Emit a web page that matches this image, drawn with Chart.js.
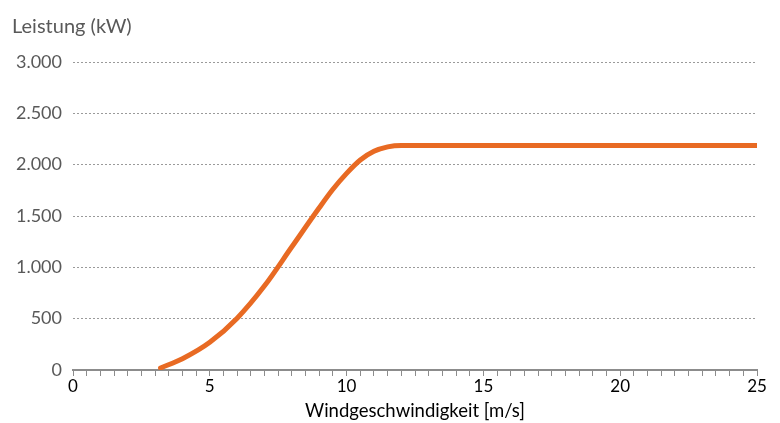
<!DOCTYPE html>
<html lang="de">
<head>
    <meta charset="UTF-8">
    <title>Leistungskurve</title>
    <script src="https://cdn.jsdelivr.net/npm/chart.js"></script>
    <style>
        body { margin: 0; background: #ffffff; }
        canvas { display: block; }
    </style>
</head>
<body>
    <canvas id="myChart" width="780" height="423"></canvas>

    <script>
        // Leistungskurve: Windgeschwindigkeit [m/s] -> Leistung [kW]
        const windSpeed = [3.2, 4, 5, 6, 7, 8, 9, 9.5, 10, 10.5, 11, 11.5, 12, 25];
        const power = [20, 110, 270, 505, 820, 1200, 1580, 1760, 1915, 2045, 2130, 2173, 2187, 2187];

        const xLabels = [0, 5, 10, 15, 20, 25];
        const yTicks = [0, 500, 1000, 1500, 2000, 2500, 3000];

        const fontName = 'Lato';

        function formatDe(v) {
            // thousands separator with a dot, like 3.000
            return String(v).replace(/\B(?=(\d{3})+(?!\d))/g, '.');
        }

        const points = windSpeed.map((x, i) => ({ x: x, y: power[i] }));

        const ctx = document.getElementById('myChart').getContext('2d');

        new Chart(ctx, {
            type: 'line',
            data: {
                datasets: [{
                    label: 'Leistung',
                    data: points,
                    borderColor: '#E86A23',
                    borderWidth: 5,
                    borderCapStyle: 'round',
                    pointRadius: 0,
                    fill: false,
                    cubicInterpolationMode: 'monotone'
                }]
            },
            options: {
                responsive: false,
                animation: false,
                layout: {
                    padding: { left: 12, right: 23, top: 0, bottom: 0 }
                },
                plugins: {
                    legend: { display: false },
                    tooltip: { enabled: false },
                    title: {
                        display: true,
                        text: 'Leistung (kW)',
                        align: 'start',
                        color: '#595959',
                        font: { family: fontName, size: 20, weight: 'normal' },
                        padding: { top: 15, bottom: 23 }
                    }
                },
                scales: {
                    x: {
                        type: 'linear',
                        min: 0,
                        max: 25,
                        afterFit: (scale) => { scale.height = 53; },
                        ticks: {
                            stepSize: 0.5,
                            autoSkip: false,
                            maxRotation: 0,
                            padding: 0,
                            color: '#000000',
                            font: { family: fontName, size: 17 },
                            callback: (v) => xLabels.includes(v) ? String(v) : ''
                        },
                        grid: {
                            display: true,
                            drawOnChartArea: false,
                            drawTicks: true,
                            tickLength: 6,
                            color: '#8C8C8C',
                            lineWidth: 1
                        },
                        border: { display: true, color: '#8C8C8C', width: 2 },
                        title: {
                            display: true,
                            text: 'Windgeschwindigkeit [m/s]',
                            color: '#000000',
                            font: { family: fontName, size: 18.5 },
                            padding: { top: 0, bottom: 1 }
                        }
                    },
                    y: {
                        min: 0,
                        max: 3000,
                        afterFit: (scale) => { scale.width = 61; },
                        afterBuildTicks: (scale) => {
                            scale.ticks = yTicks.map(v => ({ value: v }));
                        },
                        ticks: {
                            padding: 11,
                            color: '#595959',
                            font: { family: fontName, size: 18 },
                            callback: (v) => formatDe(v)
                        },
                        grid: {
                            drawTicks: false,
                            lineWidth: 1,
                            color: (c) => c.tick && c.tick.value === 0 ? 'rgba(0,0,0,0)' : '#9A9A9A'
                        },
                        border: { display: false, dash: [2, 2] }
                    }
                }
            }
        });
    </script>
</body>
</html>
